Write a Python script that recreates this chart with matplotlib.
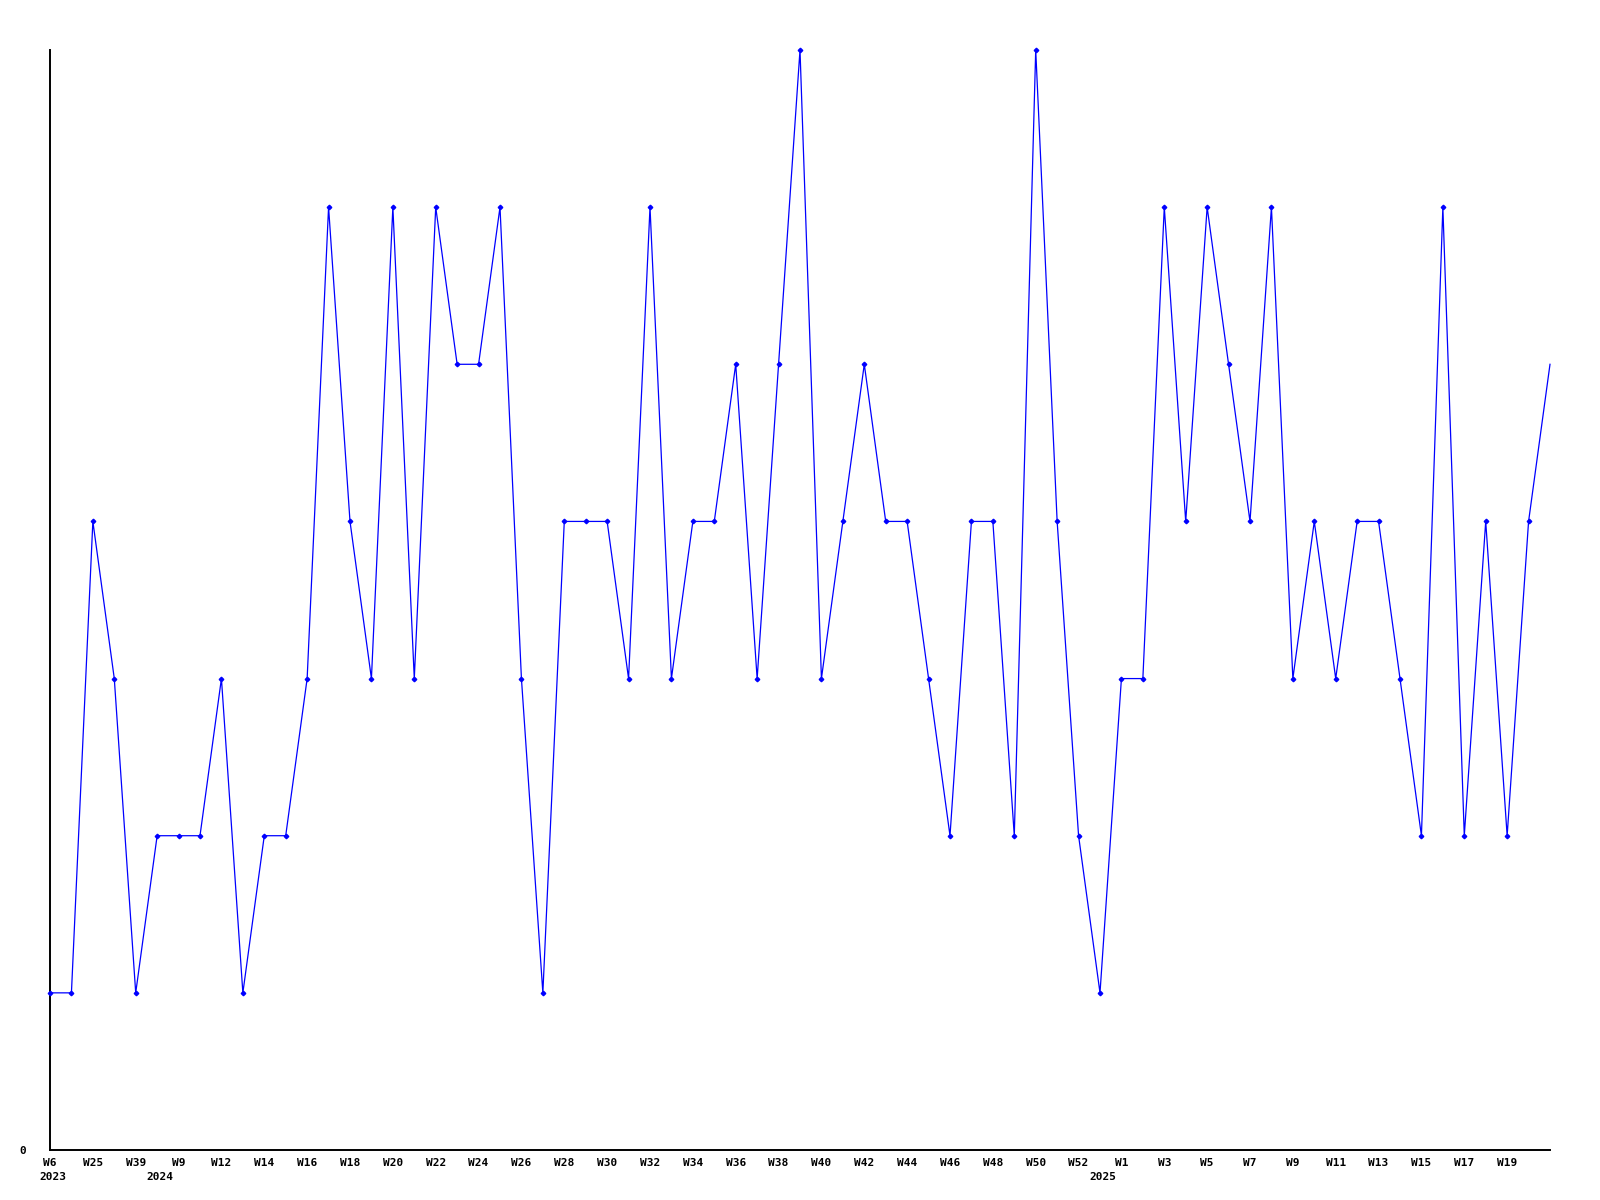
import matplotlib
matplotlib.use("Agg")
import matplotlib.pyplot as plt

# Week categories (every second one is labelled in the reference)
weeks = ["W6", "W17", "W25", "W32", "W39", "W1", "W9", "W11",
         "W12", "W13", "W14", "W15", "W16", "W17", "W18", "W19", "W20", "W21",
         "W22", "W23", "W24", "W25", "W26", "W27", "W28", "W29", "W30", "W31",
         "W32", "W33", "W34", "W35", "W36", "W37", "W38", "W39", "W40", "W41",
         "W42", "W43", "W44", "W45", "W46", "W47", "W48", "W49", "W50", "W51",
         "W52", "W0", "W1", "W2", "W3", "W4", "W5", "W6", "W7", "W8", "W9",
         "W10", "W11", "W12", "W13", "W14", "W15", "W16", "W17", "W18", "W19",
         "W20", "W21"]

values = [1, 1, 4, 3, 1, 2, 2, 2, 3, 1, 2, 2, 3, 6, 4, 3, 6, 3, 6, 5,
          5, 6, 3, 1, 4, 4, 4, 3, 6, 3, 4, 4, 5, 3, 5, 7, 3, 4, 5, 4,
          4, 3, 2, 4, 4, 2, 7, 4, 2, 1, 3, 3, 6, 4, 6, 5, 4, 6, 3, 4,
          3, 4, 4, 3, 2, 6, 2, 4, 2, 4, 5]

# year labels: (category index where the year starts, label)
year_idx = [0, 5, 49]
year_labels = ["2023", "2024", "2025"]

font = dict(family="DejaVu Sans Mono", fontweight="bold", fontsize=8)

fig = plt.figure(figsize=(16, 12), dpi=100)
ax = fig.add_axes([50 / 1600, 1 - 1150 / 1200, 1500 / 1600, 1100 / 1200])

x = list(range(len(values)))
ax.plot(x, values, color=(0, 0, 1), lw=0.9, marker="D", markersize=2.3,
        markevery=list(range(len(values) - 1)), clip_on=False, zorder=3)

ax.set_xlim(0, len(values) - 1)
ax.set_ylim(0, 7)

for s in ["top", "right"]:
    ax.spines[s].set_visible(False)
for s in ["left", "bottom"]:
    ax.spines[s].set_linewidth(1.4)
    ax.spines[s].set_color("black")

ax.set_yticks([0])
ax.set_yticklabels(["0"], **font)
ax.tick_params(axis="y", length=0, pad=17)

ticks = x[:-1:2]
ax.set_xticks(ticks)
ax.set_xticklabels([weeks[i] for i in ticks], **font)
ax.tick_params(axis="x", length=0, pad=6)

for i, lab in zip(year_idx, year_labels):
    ax.annotate(lab, xy=(i, 0), xycoords="data", xytext=(3, -22),
                textcoords="offset pixels", ha="center", va="top", **font)

fig.savefig("out.png", dpi=100)
